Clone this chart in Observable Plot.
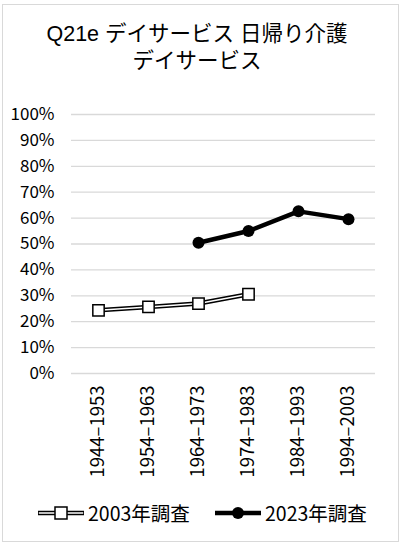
<!DOCTYPE html>
<html>
<head>
<meta charset="utf-8">
<script src="https://cdn.jsdelivr.net/npm/d3@7"></script>
<script src="https://cdn.jsdelivr.net/npm/@observablehq/plot@0.6"></script>
<style>
  html, body { margin: 0; padding: 0; background: #fff; }
  body { font-family: "Noto Sans CJK JP", "Noto Sans", sans-serif; color: #000; }
  #wrap { position: relative; width: 411px; height: 553px; overflow: hidden; }
  #frame { position: absolute; left: 2px; top: 4px; width: 397px; height: 538px; border: 1px solid #d9d9d9; box-sizing: border-box; }
  .tl { position: absolute; left: 0; width: 394px; height: 25px; text-align: center; font-family: "Liberation Sans", "Noto Sans CJK JP", sans-serif; font-size: 21.5px; line-height: 25px; white-space: nowrap; }
  #chart { position: absolute; left: 0; top: 100px; }
  .leg { position: absolute; top: 500px; height: 26px; display: flex; align-items: center; font-size: 19.5px; line-height: 26px; white-space: nowrap; }
  .leg svg { display: block; margin-right: 2px; }
</style>
</head>
<body>
<div id="wrap">
  <div id="frame"></div>
  <div class="tl" style="top:22px">Q21e デイサービス 日帰り介護</div>
  <div class="tl" style="top:49px">デイサービス</div>
  <div id="chart"></div>
  <div class="leg" style="left:36px">
    <svg width="50" height="22"><line x1="2" x2="48" y1="11" y2="11" stroke="#000" stroke-width="4.5"/><line x1="2.8" x2="47.2" y1="11" y2="11" stroke="#fff" stroke-width="1.5"/><rect x="19" y="5" width="12" height="12" fill="#fff" stroke="#000" stroke-width="1.5"/></svg>
    <span>2003年調査</span>
  </div>
  <div class="leg" style="left:213px">
    <svg width="50" height="22"><line x1="2" x2="48" y1="11" y2="11" stroke="#000" stroke-width="4.5"/><circle cx="25" cy="11" r="6" fill="#000"/></svg>
    <span>2023年調査</span>
  </div>
</div>
<script>
const categories = ["1944\u20131953", "1954\u20131963", "1964\u20131973", "1974\u20131983", "1984\u20131993", "1994\u20132003"];
const survey2003 = [24.4, 25.7, 27.0, 30.6, null, null];
const survey2023 = [null, null, 50.5, 55.0, 62.6, 59.6];
const yTicks = [0, 10, 20, 30, 40, 50, 60, 70, 80, 90, 100];

const d2003 = categories.map((c, i) => ({cat: c, value: survey2003[i]})).filter(d => d.value != null);
const d2023 = categories.map((c, i) => ({cat: c, value: survey2023[i]})).filter(d => d.value != null);

const chart = Plot.plot({
  width: 411,
  height: 400,
  marginTop: 14,
  marginLeft: 71,
  marginRight: 36,
  marginBottom: 127,
  style: { fontFamily: '"Noto Sans CJK JP", "Noto Sans", sans-serif', fontSize: "17px", color: "#000", background: "transparent", overflow: "visible" },
  x: { type: "point", domain: categories, padding: 0.5, label: null },
  y: { domain: [0, 100], label: null },
  marks: [
    Plot.ruleY(yTicks, { stroke: "#d9d9d9", strokeWidth: 1.3 }),
    Plot.axisY({ ticks: yTicks, tickFormat: d => d + "%", tickSize: 0, tickPadding: 17, fontSize: 17, fill: "#000", label: null }),
    Plot.axisX({ tickRotate: -90, tickSize: 0, tickPadding: 12, fontSize: 18.5, fill: "#000", label: null }),
    Plot.line(d2003, { x: "cat", y: "value", stroke: "#000", strokeWidth: 4.5 }),
    Plot.line(d2003, { x: "cat", y: "value", stroke: "#fff", strokeWidth: 1.5 }),
    Plot.dot(d2003, { x: "cat", y: "value", symbol: "square", r: 6.4, fill: "#fff", stroke: "#000", strokeWidth: 1.5 }),
    Plot.line(d2023, { x: "cat", y: "value", stroke: "#000", strokeWidth: 4.5 }),
    Plot.dot(d2023, { x: "cat", y: "value", r: 6, fill: "#000" })
  ]
});
document.getElementById("chart").appendChild(chart);
</script>
</body>
</html>
